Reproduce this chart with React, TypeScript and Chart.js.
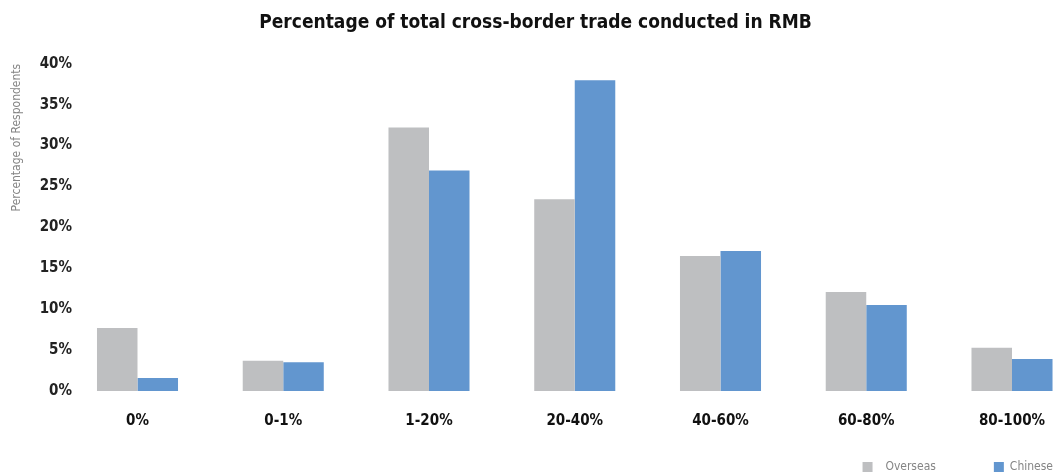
import React, { useEffect, useRef } from "react";
import { Chart, registerables } from "chart.js";

Chart.register(...registerables);

if (typeof document !== "undefined") {
  document.body.style.margin = "0";
}

const categories = ["0%", "0-1%", "1-20%", "20-40%", "40-60%", "60-80%", "80-100%"];
const overseas = [7.7, 3.7, 32.2, 23.45, 16.5, 12.1, 5.3];
const chinese = [1.6, 3.5, 26.95, 38.0, 17.1, 10.5, 3.9];
const yTickValues = [0, 5, 10, 15, 20, 25, 30, 35, 40];
const legendLead = "  ";
const legendGap = "              ";

const FONT = "'Liberation Sans Narrow', 'DejaVu Sans Condensed', 'Roboto', sans-serif";

export default function App() {
  const ref = useRef<HTMLCanvasElement | null>(null);

  useEffect(() => {
    if (!ref.current) return;
    const chart = new Chart(ref.current, {
      type: "bar",
      data: {
        datasets: [
          {
            label: "Overseas",
            data: overseas.map((v, i) => ({ x: i, y: v })),
            backgroundColor: "#BEBFC1",
            borderWidth: 0,
          },
          {
            label: "Chinese",
            data: chinese.map((v, i) => ({ x: i, y: v })),
            backgroundColor: "#6296CF",
            borderWidth: 0,
          },
        ],
      },
      options: {
        animation: false,
        responsive: true,
        maintainAspectRatio: false,
        layout: { padding: { left: 0, right: -8, top: 0, bottom: 0 } },
        datasets: {
          bar: { categoryPercentage: 0.556, barPercentage: 1 },
        },
        plugins: {
          title: {
            display: true,
            text: "Percentage of total cross-border trade conducted in RMB",
            color: "#111",
            font: { family: FONT, size: 19, weight: "bold" },
            padding: { top: 4, bottom: 29 },
          },
          legend: {
            display: true,
            position: "bottom",
            align: "end",
            labels: {
              boxWidth: 10,
              boxHeight: 10,
              color: "#858585",
              font: { family: FONT, size: 12 },
              padding: 10,
              generateLabels: (c: any) => {
                const items = Chart.defaults.plugins.legend.labels.generateLabels(c);
                return items.map((it: any, i: number) => ({
                  ...it,
                  text: i < items.length - 1 ? legendLead + it.text + legendGap : it.text,
                }));
              },
            },
          },
          tooltip: { enabled: false },
        },
        scales: {
          x: {
            type: "linear",
            offset: false,
            min: -0.3945,
            max: 6.295,
            grid: { display: false, drawTicks: false },
            border: { display: false },
            afterBuildTicks: (axis: any) => {
              axis.ticks = categories.map((_, i) => ({ value: i }));
            },
            afterFit: (axis: any) => {
              axis.height = 60;
              axis.paddingLeft = 0;
              axis.paddingRight = 0;
            },
            ticks: {
              autoSkip: false,
              maxRotation: 0,
              padding: 21,
              color: "#111",
              font: { family: FONT, size: 15, weight: "bold" },
              callback: (v: any) => categories[Math.round(Number(v))] ?? "",
            },
          },
          y: {
            min: 0,
            max: 40,
            grid: { display: false, drawTicks: false },
            border: { display: false },
            afterBuildTicks: (axis: any) => {
              axis.ticks = yTickValues.map((v) => ({ value: v }));
            },
            afterFit: (axis: any) => {
              axis.width = 72;
            },
            ticks: {
              padding: 8,
              color: "#222",
              font: { family: FONT, size: 15, weight: "bold" },
              callback: (v: any) => `${v}%`,
            },
            title: {
              display: true,
              text: "Percentage of Respondents",
              align: "end",
              color: "#858585",
              font: { family: FONT, size: 12 },
              padding: { top: 2, bottom: 0 },
            },
          },
        },
      },
    });
    return () => chart.destroy();
  }, []);

  return (
    <div
      style={{
        width: 1055,
        height: 473,
        paddingLeft: 8,
        paddingTop: 8,
        boxSizing: "border-box",
        overflow: "hidden",
        position: "relative",
      }}
    >
      <div style={{ width: 1047, height: 475, position: "relative" }}>
        <canvas ref={ref} style={{ display: "block" }} />
      </div>
    </div>
  );
}
